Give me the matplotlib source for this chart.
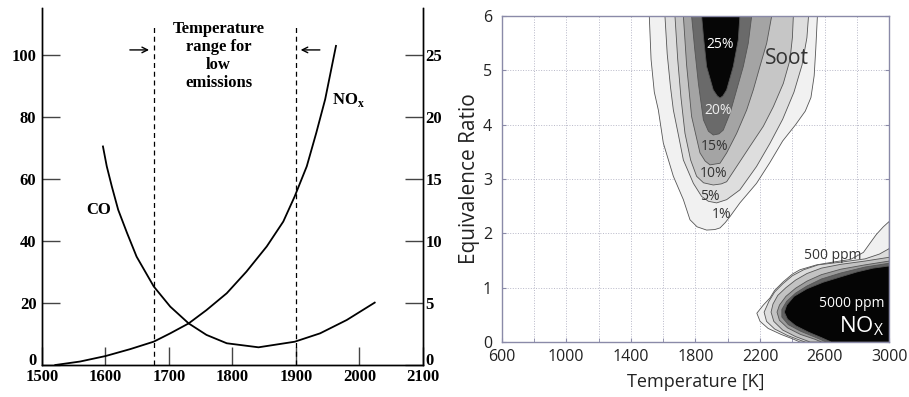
import matplotlib.pyplot as plt
import matplotlib.transforms as mtransforms
from matplotlib.ticker import MultipleLocator

# ---- left panel: CO / NOx against primary-zone temperature ----
co_temp = [1596, 1602, 1610, 1620, 1634, 1649, 1676, 1702, 1731, 1759, 1791, 1841, 1898, 1938, 1980, 2024]
co_ppm = [70.4, 64.0, 57.5, 50.0, 42.5, 34.9, 25.3, 18.8, 13.4, 9.7, 7.0, 5.7, 7.5, 10.2, 14.5, 20.1]

nox_temp = [1521, 1560, 1600, 1639, 1676, 1702, 1731, 1759, 1791, 1822, 1854, 1880, 1898, 1917, 1932, 1946, 1963]
nox_ppm = [0, 0.28, 0.72, 1.28, 1.88, 2.55, 3.35, 4.42, 5.78, 7.52, 9.55, 11.55, 13.58, 16.0, 18.7, 21.4, 25.7]

low_range = [1676, 1900]

# ---- right panel: soot (%) and NOx (ppm) bands, (temperature K, equivalence ratio) ----
soot_1 = [(1514, 6.0), (1525, 5.2), (1545, 4.6), (1570, 4.27), (1601, 3.66), (1663, 3.05), (1725, 2.62),
          (1766, 2.25), (1810, 2.12), (1869, 2.06), (1920, 2.07), (1952, 2.10), (1985, 2.2), (2014, 2.31),
          (2075, 2.56), (2178, 2.92), (2260, 3.3), (2340, 3.7), (2420, 4.0), (2480, 4.25), (2515, 4.5),
          (2535, 4.9), (2545, 5.4), (2555, 6.0)]
soot_5 = [(1611, 6.0), (1625, 5.3), (1645, 4.7), (1663, 4.27), (1695, 3.8), (1725, 3.35), (1787, 2.92),
          (1838, 2.68), (1880, 2.59), (1931, 2.56), (1993, 2.62), (2075, 2.80), (2178, 3.23), (2260, 3.65),
          (2340, 4.1), (2410, 4.6), (2460, 5.1), (2490, 5.6), (2500, 6.0)]
soot_10 = [(1673, 6.0), (1690, 5.2), (1710, 4.5), (1735, 3.84), (1770, 3.35), (1807, 3.05), (1850, 2.93),
           (1910, 2.89), (1960, 2.91), (1993, 2.95), (2055, 3.23), (2137, 3.6), (2220, 3.97), (2282, 4.33),
           (2344, 4.76), (2385, 5.19), (2400, 5.6), (2406, 6.0)]
soot_15 = [(1725, 6.0), (1745, 5.1), (1776, 4.15), (1828, 3.48), (1860, 3.33), (1890, 3.26), (1952, 3.29),
           (1993, 3.48), (2055, 3.84), (2117, 4.27), (2158, 4.64), (2199, 5.07), (2241, 5.5), (2272, 6.0)]
soot_20 = [(1776, 6.0), (1795, 5.4), (1818, 4.76), (1849, 4.09), (1880, 3.88), (1910, 3.81), (1945, 3.83),
           (1972, 3.90), (2014, 4.21), (2055, 4.64), (2096, 5.07), (2127, 5.5), (2148, 6.0)]
soot_25 = [(1838, 6.0), (1850, 5.6), (1869, 5.07), (1910, 4.64), (1935, 4.53), (1952, 4.49), (1970, 4.53),
           (1993, 4.64), (2034, 5.07), (2065, 5.56), (2075, 6.0)]

nox_500 = [(3000, 2.22), (2963, 2.12), (2920, 1.98), (2881, 1.82), (2840, 1.65), (2760, 1.52), (2650, 1.47),
           (2550, 1.42), (2447, 1.33), (2400, 1.25), (2344, 1.11), (2290, 0.95), (2261, 0.81), (2220, 0.68),
           (2180, 0.53), (2200, 0.38), (2250, 0.25), (2330, 0.14), (2400, 0.06), (2447, 0.0), (3000, 0.0)]
nox_1000 = [(3000, 1.72), (2940, 1.62), (2850, 1.53), (2700, 1.47), (2560, 1.42), (2470, 1.33), (2400, 1.22),
            (2340, 1.07), (2290, 0.92), (2255, 0.75), (2225, 0.55), (2240, 0.38), (2290, 0.24), (2370, 0.12),
            (2450, 0.03), (2480, 0.0), (3000, 0.0)]
nox_2000 = [(3000, 1.56), (2850, 1.49), (2700, 1.43), (2580, 1.36), (2490, 1.26), (2420, 1.14), (2360, 1.0),
            (2310, 0.86), (2280, 0.70), (2268, 0.55), (2285, 0.38), (2340, 0.22), (2420, 0.1), (2510, 0.0),
            (3000, 0.0)]
nox_3000 = [(3000, 1.49), (2850, 1.42), (2700, 1.34), (2580, 1.24), (2490, 1.12), (2420, 0.99), (2360, 0.84),
            (2320, 0.68), (2305, 0.55), (2320, 0.40), (2370, 0.26), (2450, 0.14), (2540, 0.05), (2580, 0.0),
            (3000, 0.0)]
nox_4000 = [(3000, 1.45), (2850, 1.38), (2700, 1.27), (2580, 1.16), (2490, 1.03), (2420, 0.90), (2365, 0.75),
            (2335, 0.60), (2335, 0.46), (2375, 0.32), (2450, 0.20), (2540, 0.09), (2610, 0.0), (3000, 0.0)]
nox_5000 = [(3000, 1.40), (2900, 1.36), (2800, 1.29), (2700, 1.20), (2590, 1.10), (2490, 0.98), (2410, 0.84),
            (2365, 0.68), (2350, 0.55), (2370, 0.42), (2420, 0.30), (2500, 0.18), (2580, 0.08), (2640, 0.0),
            (3000, 0.0)]

soot_bands = [soot_1, soot_5, soot_10, soot_15, soot_20, soot_25]
soot_colors = ["#f1f1f1", "#dedede", "#c6c6c6", "#a4a4a4", "#6a6a6a", "#060606"]
nox_bands = [nox_500, nox_1000, nox_2000, nox_3000, nox_4000, nox_5000]
nox_colors = ["#f0f0f0", "#dcdcdc", "#c2c2c2", "#9c9c9c", "#626262", "#050505"]

fig = plt.figure(figsize=(9.09, 3.97), dpi=100)

# ================= left panel =================
serif = "Liberation Serif"
ax = fig.add_axes([0.0462, 0.0806, 0.4191, 0.8992])
ax2 = ax.twinx()

ax.plot(co_temp, co_ppm, color="black", lw=1.3)
ax2.plot(nox_temp, nox_ppm, color="black", lw=1.3)

for t in low_range:
    ax.plot([t, t], [0, 110], color="black", lw=0.9, ls=(0, (4, 3)))

ax.annotate("", xy=(1673, 101.5), xytext=(1634, 101.5),
            arrowprops=dict(arrowstyle="->", color="black", lw=1.0))
ax.annotate("", xy=(1903, 101.5), xytext=(1942, 101.5),
            arrowprops=dict(arrowstyle="->", color="black", lw=1.0))

ax.text(1778, 99.5, "Temperature\nrange for\nlow\nemissions", ha="center", va="center",
        fontsize=12, family=serif, fontweight="bold", linespacing=1.15)
ax.text(1589, 50, "CO", ha="center", va="center", fontsize=12, family=serif, fontweight="bold")
ax.text(1982, 85.5, r"NO$_\mathregular{x}$", ha="center", va="center", fontsize=12,
        family=serif, fontweight="bold")

ax.set_xlim(1500, 2100)
ax.set_ylim(0, 115)
ax2.set_ylim(0, 28.75)
ax.set_xticks([1500, 1600, 1700, 1800, 1900, 2000, 2100])
ax.set_yticks([0, 20, 40, 60, 80, 100])
ax2.set_yticks([0, 5, 10, 15, 20, 25])

for a in (ax, ax2):
    a.spines["top"].set_visible(False)
    for s in a.spines.values():
        s.set_linewidth(1.0)
ax.tick_params(axis="both", direction="in", length=13, width=1.0, color="#444444",
               labelsize=12, pad=4)
ax.tick_params(axis="x", pad=3)
ax2.tick_params(axis="y", direction="in", length=13, width=1.0, color="#444444",
                labelsize=12, pad=2)
for lab in ax.get_xticklabels() + ax.get_yticklabels() + ax2.get_yticklabels():
    lab.set_family(serif)
    lab.set_fontweight("bold")
# nudge the two "0" labels up a few pixels so they clear 1500 / 2100
lift = mtransforms.ScaledTranslation(0, 4 / 72, fig.dpi_scale_trans)
for lab in (ax.get_yticklabels()[0], ax2.get_yticklabels()[0]):
    lab.set_transform(lab.get_transform() + lift)

# ================= right panel =================
sans = "Open Sans"
edge = "#8a8aa8"
bx = fig.add_axes([0.5519, 0.1385, 0.4264, 0.8212])
bx.set_axisbelow(True)

for band, c in zip(soot_bands, soot_colors):
    xs, ys = zip(*band)
    bx.fill(xs, ys, facecolor=c, edgecolor="#555555", lw=0.6)
for band, c in zip(nox_bands, nox_colors):
    xs, ys = zip(*band)
    bx.fill(xs, ys, facecolor=c, edgecolor="#555555", lw=0.6)

pct_kw = dict(ha="center", va="center", fontsize=10, family=sans)
bx.text(1952, 5.47, "25%", color="white", **pct_kw)
bx.text(1941, 4.27, "20%", color="#eeeeee", **pct_kw)
bx.text(1921, 3.6, "15%", color="#333333", **pct_kw)
bx.text(1910, 3.1, "10%", color="#333333", **pct_kw)
bx.text(1890, 2.67, "5%", color="#333333", **pct_kw)
bx.text(1962, 2.34, "1%", color="#333333", **pct_kw)
bx.text(2369, 5.22, "Soot", ha="center", va="center", fontsize=15, family=sans, color="#333333")
bx.text(2649, 1.6, "500 ppm", ha="center", va="center", fontsize=10, family=sans, color="#333333")
bx.text(2767, 0.70, "5000 ppm", ha="center", va="center", fontsize=10, family=sans, color="white")
bx.text(2829, 0.30, r"NO$_\mathregular{X}$", ha="center", va="center", fontsize=16,
        family=sans, color="white")

bx.set_xlim(600, 3000)
bx.set_ylim(0, 6)
bx.set_xticks([600, 1000, 1400, 1800, 2200, 2600, 3000])
bx.xaxis.set_minor_locator(MultipleLocator(200))
bx.yaxis.set_major_locator(MultipleLocator(1))
bx.grid(True, which="both", linestyle=":", color="#b8b8c8", lw=0.7)
for s in bx.spines.values():
    s.set_color(edge)
    s.set_linewidth(1.0)
bx.tick_params(which="both", direction="in", length=3, color=edge, right=True, top=False,
               labelsize=11.5, labelcolor="#222222")
bx.tick_params(axis="x", pad=5)
bx.tick_params(axis="y", pad=7)
for lab in bx.get_xticklabels() + bx.get_yticklabels():
    lab.set_family(sans)
bx.set_ylabel("Equivalence Ratio", fontsize=15, family=sans, color="#222222", labelpad=2)
bx.set_xlabel("Temperature [K]", fontsize=13, family=sans, color="#222222", labelpad=6)

fig.savefig("out.png", dpi=100)
